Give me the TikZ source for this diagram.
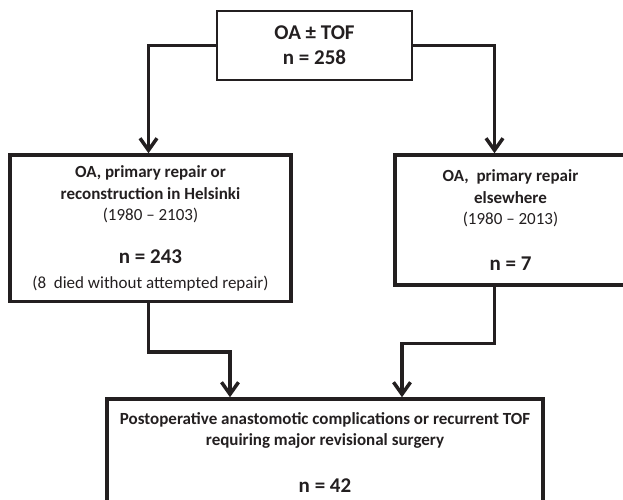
\documentclass[tikz,border=0pt]{standalone}
\usepackage{fontspec}
\setmainfont{Carlito}
\usepackage{tikz}
\usepackage{xcolor}
\usetikzlibrary{arrows.meta}
\definecolor{ink}{HTML}{231F20}

\begin{document}
\begin{tikzpicture}[
    x=1pt, y=-1pt,
    box/.style={draw=ink, text=ink, line width=3.5pt, align=center, inner sep=0pt, font=\fontsize{17}{21.7}\selectfont},
    big/.style={font=\fontsize{21}{21.7}\selectfont\bfseries},
    arr/.style={-{Straight Barb[length=12pt,width=17pt]}, draw=ink, line width=3.5pt}
]
\path[use as bounding box, clip] (0,0) rectangle (623,500);
\node[box, line width=1.5pt, minimum width=195pt, minimum height=69pt, font=\fontsize{21}{25}\selectfont\bfseries] (top) at (314.5,45.5) {OA ± TOF\\n = 258};
\node[box, minimum width=281pt, minimum height=146.5pt] (lbox) at (150.5,228.25)
    {\textbf{OA, primary repair or}\\\textbf{reconstruction in Helsinki}\\(1980 – 2103)\\[21pt]{\fontsize{21}{21.7}\selectfont\bfseries n = 243}\\[3pt](8~ died without attempted repair)};
\node[box, minimum width=231pt, minimum height=130pt] (rbox) at (510.5,220)
    {\textbf{OA,~ primary repair}\\\textbf{elsewhere}\\(1980 – 2013)\\[24pt]{\fontsize{21}{21.7}\selectfont\bfseries n = 7}};
\node[box, minimum width=436pt, minimum height=107pt] (res) at (325,452.5)
    {\textbf{Postoperative anastomotic complications or recurrent TOF}\\\textbf{requiring major revisional surgery}\\[25pt]{\fontsize{21}{21.7}\selectfont\bfseries n = 42}};
\draw[arr] (top.west) -| ([xshift=-2pt]lbox.north);
\draw[arr] (top.east) -| ([xshift=-16pt]rbox.north);
\draw[arr] ([xshift=-2pt]lbox.south) -- ++(0,48.5) -| ([xshift=-95pt]res.north);
\draw[arr] ([xshift=-16pt]rbox.south) -- ++(0,56.7) -| ([xshift=77pt]res.north);
\end{tikzpicture}
\end{document}
